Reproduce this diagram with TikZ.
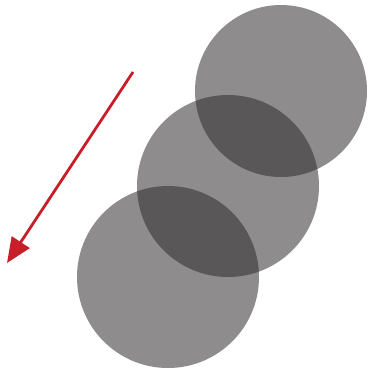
\documentclass[tikz,border=0pt]{standalone}
\usepackage{xcolor}
\usepackage{tikz}
\usetikzlibrary{arrows.meta, positioning, calc}
\definecolor{myred}{RGB}{200,30,42}
\definecolor{mydisc}{RGB}{46,42,44}
\tikzset{
  disc/.style={circle, fill=mydisc, fill opacity=0.54, inner sep=0pt, minimum size=#1},
  motion/.style={-{Triangle[length=25pt, width=21pt]}, line width=2.8pt, color=myred}
}
\begin{document}
\begin{tikzpicture}[x=1pt, y=-1pt]
  % keep the page at the reference size
  \useasboundingbox (0,0) rectangle (378,370);

  % Three overlapping discs, from top right to bottom left
  \node[disc=172pt] (upper) at (281,91) {};
  \node[disc=182pt] (middle) at (228,186) {};
  \node[disc=182pt] (lower) at (168,277) {};

  % Direction of motion
  \coordinate (tail) at (133,72);
  \coordinate (head) at (7,263);
  \draw[motion] (tail) -- (head);
\end{tikzpicture}
\end{document}
